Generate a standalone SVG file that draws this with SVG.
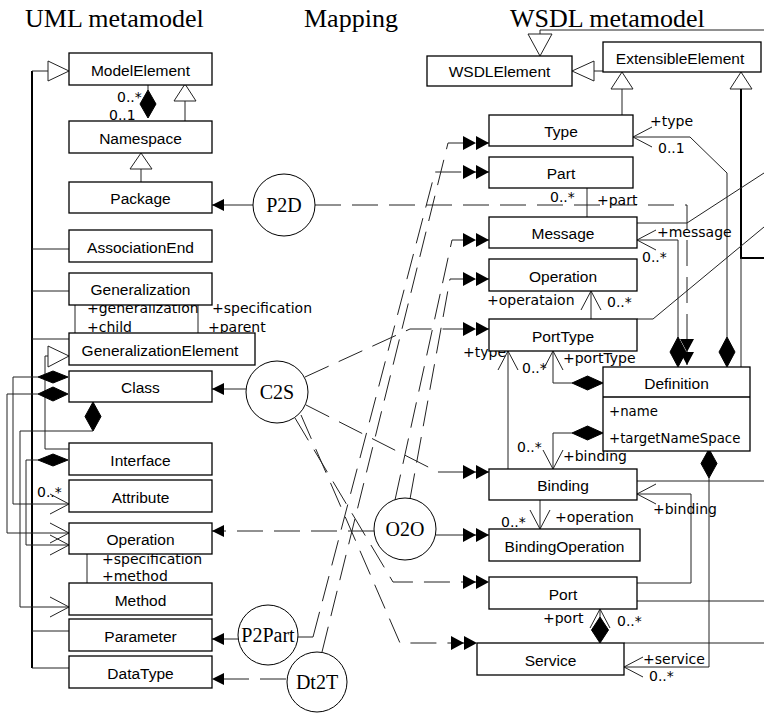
<svg xmlns="http://www.w3.org/2000/svg" width="764" height="713" viewBox="0 0 764 713">
<style>
.box{fill:#fff;stroke:#000;stroke-width:1.3}
.nm{font-family:"Liberation Sans",Arial,sans-serif;font-size:15.5px;text-anchor:middle;fill:#000}
.lb{font-family:"DejaVu Sans",sans-serif;font-size:14px;fill:#000}
.at{font-family:"DejaVu Sans",sans-serif;font-size:13.3px;fill:#000}
.ttl{font-family:"Liberation Serif","Times New Roman",serif;font-size:26px;fill:#000}
.cir{fill:#fff;stroke:#000;stroke-width:1}
.ct{font-family:"Liberation Serif","Times New Roman",serif;font-size:20px;text-anchor:middle;fill:#000}
.ln{fill:none;stroke:#222;stroke-width:1}
.thick{fill:none;stroke:#000;stroke-width:2}
.dash{fill:none;stroke:#222;stroke-width:1;stroke-dasharray:26 11}
.dia{fill:#000;stroke:#000;stroke-width:1}
.tri{fill:#fff;stroke:#222;stroke-width:1}
</style>
<defs>
<marker id="dbl" markerUnits="userSpaceOnUse" markerWidth="28" markerHeight="16" refX="26" refY="7" orient="auto" overflow="visible">
<path d="M0,0 L13,7 L0,14 Z M13,0 L26,7 L13,14 Z" fill="#000"/>
</marker>
<marker id="fil" markerUnits="userSpaceOnUse" markerWidth="14" markerHeight="14" refX="12" refY="6" orient="auto" overflow="visible">
<path d="M0,0 L12,6 L0,12 Z" fill="#000"/>
</marker>
<marker id="veeS" markerUnits="userSpaceOnUse" markerWidth="22" markerHeight="22" refX="0" refY="10" orient="auto" overflow="visible">
<path d="M19,0 L0,10 L19,20" fill="none" stroke="#222" stroke-width="1"/>
</marker>
<marker id="veeE" markerUnits="userSpaceOnUse" markerWidth="22" markerHeight="22" refX="19" refY="10" orient="auto" overflow="visible">
<path d="M0,0 L19,10 L0,20" fill="none" stroke="#222" stroke-width="1"/>
</marker>
</defs>
<rect width="764" height="713" fill="#fff"/>
<g id="titles">
<text class="ttl" x="25" y="27">UML metamodel</text>
<text class="ttl" x="304" y="27">Mapping</text>
<text class="ttl" x="510" y="27">WSDL metamodel</text>
</g>
<g id="connectors">
<!-- UML side -->
<path class="thick" d="M32,71 V668"/>
<path class="ln" d="M32,71 H48"/>
<polygon class="tri" points="48,61 69,71 48,81"/>
<path class="ln" d="M32,249 H69 M32,291 H69 M32,339 H69 M32,631 H69 M32,668 H69"/>
<path class="ln" d="M148,81 V90"/>
<polygon class="dia" points="148,90 156,104 148,118 140,104"/>
<text class="lb" x="117" y="102">0..*</text>
<text class="lb" x="109" y="120">0..1</text>
<polygon class="tri" points="185,84 196,101 174,101"/>
<path class="ln" d="M185,101 V121"/>
<polygon class="tri" points="141,153 152,169 130,169"/>
<path class="ln" d="M141,169 V182"/>
<path class="ln" d="M75,300 V333 M198,300 V333"/>
<text class="lb" x="87" y="313">+generalization</text>
<text class="lb" x="212" y="313">+specification</text>
<text class="lb" x="87" y="332">+child</text>
<text class="lb" x="208" y="332">+parent</text>
<polygon class="tri" points="48,346 69,356 48,367"/>
<path class="ln" d="M48,356 H45 V449 H69"/>
<polygon class="dia" points="38,377 53,371 68,377 53,383"/>
<polygon class="dia" points="38,394 53,387 68,394 53,401"/>
<polygon class="dia" points="93,402 101,416.5 93,431 85,416.5"/>
<polygon class="dia" points="38,460 53,454 68,460 53,466"/>
<path class="ln" d="M38,377 H13 V504 H69" marker-end="url(#veeE)"/>
<path class="ln" d="M38,394 H7 V533 H69" marker-end="url(#veeE)"/>
<path class="ln" d="M93,431 H20 V607 H69" marker-end="url(#veeE)"/>
<path class="ln" d="M38,460 H26 V545 H69" marker-end="url(#veeE)"/>
<text class="lb" x="37" y="497">0..*</text>
<path class="ln" d="M87,549 V583"/>
<text class="lb" x="102" y="564">+specification</text>
<text class="lb" x="102" y="581">+method</text>
<!-- mappings -->
<path class="ln" d="M253,205 H212" marker-end="url(#fil)"/>
<path class="dash" d="M315,205 H687 V365" marker-end="url(#dbl)"/>
<path class="ln" d="M246,389 H212" marker-end="url(#fil)"/>
<path class="dash" d="M305,377 L410,329 H489" marker-end="url(#dbl)"/>
<path class="dash" d="M306,405 L438,472 H489" marker-end="url(#dbl)"/>
<path class="dash" d="M295,418 L393,582 H489" marker-end="url(#dbl)"/>
<path class="dash" d="M301,415 L400,643 H477" marker-end="url(#dbl)"/>
<path class="dash" d="M374,531 H212" marker-end="url(#fil)"/>
<path class="ln" d="M436,535 H489" marker-end="url(#dbl)"/>
<path class="dash" d="M395,500 L452,240 H489" marker-end="url(#dbl)"/>
<path class="dash" d="M410,499 L450,279 H489" marker-end="url(#dbl)"/>
<path class="ln" d="M238,639 H212" marker-end="url(#fil)"/>
<path class="ln" d="M298,637 H313"/>
<path class="dash" d="M313,637 L435,172 H489" marker-end="url(#dbl)"/>
<path class="dash" d="M286,679 H212" marker-end="url(#fil)"/>
<path class="dash" d="M322,652 L448,143 H489" marker-end="url(#dbl)"/>
<!-- WSDL side -->
<polygon class="tri" points="528,34 552,34 540,56"/>
<path class="ln" d="M540,34 V30 H764" stroke-width="1.5"/>
<polygon class="tri" points="572,71 594,61 594,81"/>
<path class="ln" d="M594,71 H603"/>
<polygon class="tri" points="622,72 633,89 611,89"/>
<path class="ln" d="M622,89 V115"/>
<polygon class="tri" points="741,72 752,89 730,89"/>
<path class="thick" d="M741,89 V258 H764"/>
<path class="ln" d="M741,258 V367"/>
<path class="ln" d="M633,137 H690 L727,173 V337" marker-start="url(#veeS)"/>
<polygon class="dia" points="727,337 735,352 727,367 719,352"/>
<text class="lb" x="650" y="126">+type</text>
<text class="lb" x="658" y="153">0..1</text>
<path class="ln" d="M587,183 V217"/>
<text class="lb" x="550" y="202">0..*</text>
<text class="lb" x="597" y="205">+part</text>
<path class="ln" d="M637,223 H687 L764,173"/>
<path class="ln" d="M637,240 H678 V337" marker-start="url(#veeS)"/>
<polygon class="dia" points="678,337 686,352 678,367 670,352"/>
<text class="lb" x="657" y="237">+message</text>
<text class="lb" x="642" y="262">0..*</text>
<path class="ln" d="M591,291 V319" marker-start="url(#veeS)"/>
<text class="lb" x="487" y="305">+operataion</text>
<text class="lb" x="607" y="307">0..*</text>
<path class="ln" d="M637,319 H653 L764,227"/>
<path class="ln" d="M508,351 V469" marker-start="url(#veeS)"/>
<text class="lb" x="463" y="357">+type</text>
<text class="lb" x="522" y="373">0..*</text>
<path class="ln" d="M553,351 V383 H572" marker-start="url(#veeS)"/>
<polygon class="dia" points="572,383 587.5,376 603,383 587.5,390"/>
<text class="lb" x="563" y="363">+portType</text>
<polygon class="dia" points="572,433 587.5,426 603,433 587.5,440"/>
<path class="ln" d="M572,433 H553 V469" marker-end="url(#veeE)"/>
<text class="lb" x="517" y="452">0..*</text>
<text class="lb" x="563" y="461">+binding</text>
<path class="ln" d="M540,500 V529" marker-end="url(#veeE)"/>
<text class="lb" x="501" y="527">0..*</text>
<text class="lb" x="555" y="522">+operation</text>
<path class="ln" d="M637,481 H764"/>
<path class="ln" d="M637,494 H691 V583 H637" marker-start="url(#veeS)"/>
<text class="lb" x="653" y="514">+binding</text>
<polygon class="dia" points="709,449 717,463.5 709,478 701,463.5"/>
<path class="ln" d="M709,478 V667 H624" marker-end="url(#veeE)"/>
<text class="lb" x="643" y="664">+service</text>
<text class="lb" x="649" y="681">0..*</text>
<path class="ln" d="M637,601 H764"/>
<path class="ln" d="M624,643 H764"/>
<path class="ln" d="M600,609 V617" marker-start="url(#veeS)"/>
<polygon class="dia" points="600,617 608.5,630 600,643 591.5,630"/>
<text class="lb" x="543" y="623">+port</text>
<text class="lb" x="617" y="626">0..*</text>
</g>
<g id="ModelElement"><rect class="box" x="69" y="53" width="143" height="32"/><text class="nm" x="140.5" y="76">ModelElement</text></g>
<g id="Namespace"><rect class="box" x="69" y="121" width="143" height="32"/><text class="nm" x="140.5" y="144">Namespace</text></g>
<g id="Package"><rect class="box" x="69" y="182" width="143" height="31"/><text class="nm" x="140.5" y="204">Package</text></g>
<g id="AssociationEnd"><rect class="box" x="69" y="230" width="143" height="32"/><text class="nm" x="140.5" y="253">AssociationEnd</text></g>
<g id="Generalization"><rect class="box" x="69" y="273" width="143" height="32"/><text class="nm" x="140.5" y="295">Generalization</text></g>
<g id="GeneralizationElement"><rect class="box" x="69" y="333" width="186" height="32"/><text class="nm" x="160" y="356">GeneralizationElement</text></g>
<g id="Class"><rect class="box" x="69" y="371" width="143" height="31"/><text class="nm" x="140.5" y="393">Class</text></g>
<g id="Interface"><rect class="box" x="69" y="443" width="143" height="32"/><text class="nm" x="140.5" y="466">Interface</text></g>
<g id="Attribute"><rect class="box" x="69" y="480" width="143" height="32"/><text class="nm" x="140.5" y="503">Attribute</text></g>
<g id="UMLOperation"><rect class="box" x="69" y="523" width="143" height="31"/><text class="nm" x="140.5" y="545">Operation</text></g>
<g id="Method"><rect class="box" x="69" y="583" width="143" height="32"/><text class="nm" x="140.5" y="606">Method</text></g>
<g id="Parameter"><rect class="box" x="69" y="619" width="143" height="32"/><text class="nm" x="140.5" y="642">Parameter</text></g>
<g id="DataType"><rect class="box" x="69" y="656" width="143" height="32"/><text class="nm" x="140.5" y="679">DataType</text></g>
<g id="P2D"><circle class="cir" cx="284" cy="205" r="31"/><text class="ct" x="284" y="212">P2D</text></g>
<g id="C2S"><circle class="cir" cx="277" cy="392" r="31"/><text class="ct" x="277" y="399">C2S</text></g>
<g id="O2O"><circle class="cir" cx="405" cy="529" r="31"/><text class="ct" x="405" y="536">O2O</text></g>
<g id="P2Part"><circle class="cir" cx="268" cy="635" r="30"/><text class="ct" x="268" y="642">P2Part</text></g>
<g id="Dt2T"><circle class="cir" cx="317" cy="682" r="30"/><text class="ct" x="317" y="689">Dt2T</text></g>
<g id="WSDLElement"><rect class="box" x="427" y="56" width="145" height="30"/><text class="nm" x="499.5" y="77">WSDLElement</text></g>
<g id="ExtensibleElement"><rect class="box" x="603" y="42" width="158" height="30"/><text class="nm" x="680" y="64">ExtensibleElement</text></g>
<g id="Type"><rect class="box" x="489" y="115" width="144" height="31"/><text class="nm" x="561" y="137">Type</text></g>
<g id="Part"><rect class="box" x="489" y="157" width="144" height="31"/><text class="nm" x="561" y="179">Part</text></g>
<g id="Message"><rect class="box" x="489" y="217" width="148" height="31"/><text class="nm" x="563" y="239">Message</text></g>
<g id="WSDLOperation"><rect class="box" x="489" y="259" width="148" height="32"/><text class="nm" x="563" y="282">Operation</text></g>
<g id="PortType"><rect class="box" x="489" y="319" width="148" height="32"/><text class="nm" x="563" y="342">PortType</text></g>
<g id="Definition"><rect class="box" x="603" y="367" width="147" height="84"/><line x1="603" y1="397" x2="750" y2="397" stroke="#000" stroke-width="1.3"/><text class="nm" x="676.5" y="389">Definition</text><text class="at" x="609" y="416">+name</text><text class="at" x="609" y="443">+targetNameSpace</text></g>
<g id="Binding"><rect class="box" x="489" y="469" width="148" height="31"/><text class="nm" x="563" y="491">Binding</text></g>
<g id="BindingOperation"><rect class="box" x="489" y="529" width="151" height="32"/><text class="nm" x="564.5" y="552">BindingOperation</text></g>
<g id="Port"><rect class="box" x="489" y="577" width="148" height="32"/><text class="nm" x="563" y="600">Port</text></g>
<g id="Service"><rect class="box" x="477" y="643" width="147" height="32"/><text class="nm" x="550.5" y="666">Service</text></g>
</svg>
